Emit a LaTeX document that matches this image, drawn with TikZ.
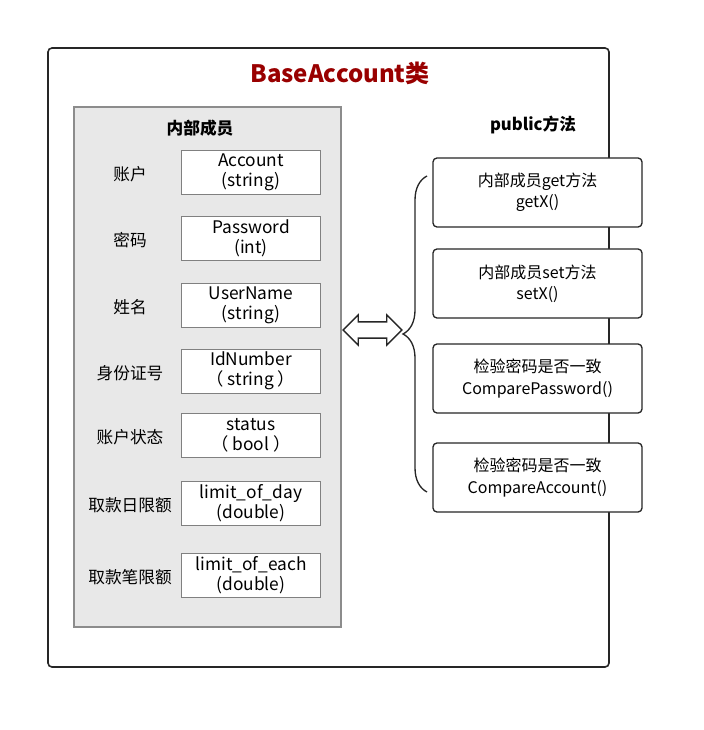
\documentclass[tikz,border=0pt]{standalone}
\usepackage{fontspec}
\setmainfont{Noto Sans CJK SC}
\usepackage{xcolor}
\usetikzlibrary{positioning}
\usetikzlibrary{shapes.arrows}
\usetikzlibrary{decorations.pathreplacing}
\definecolor{titlered}{RGB}{153,0,0}

\begin{document}
\begin{tikzpicture}[x=0.75pt, y=-0.75pt, font=\fontsize{12.5}{15}\selectfont]
    \tikzstyle{frame}=[draw=black!85, line width=1.2pt, rounded corners=3pt, inner sep=0pt]
    \tikzstyle{panel}=[draw=black!45, fill=gray!18, line width=1.3pt, inner sep=0pt]
    \tikzstyle{member}=[draw=black!50, fill=white, minimum width=104pt, minimum height=33pt, inner sep=0pt, align=center, font=\fontsize{13}{15}\selectfont]
    \tikzstyle{method}=[draw=black!85, fill=white, line width=1pt, rounded corners=3pt, minimum width=156.75pt, minimum height=51.75pt, inner sep=0pt, align=center, font=\fontsize{12}{16}\selectfont]
    \tikzstyle{head}=[font=\fontsize{12.5}{15}\selectfont\bfseries]

    \useasboundingbox (0,0) rectangle (703,730);

    % outer class box and member panel
    \node[frame, minimum width=420.75pt, minimum height=464.25pt] (cls) at (328.5,357.5) {};
    \node[font=\fontsize{18}{22}\selectfont\bfseries, text=titlered] (title) at (340,73) {BaseAccount类};
    \node[panel, minimum width=200.25pt, minimum height=390pt] (inner) at (207.5,367) {};
    \node[head] (innerhead) at (200,128) {内部成员};

    % members
    \foreach \i/\y/\lab/\txt in {1/172/账户/{Account\\(string)},
                                 2/238/密码/{Password\\(int)},
                                 3/305.5/姓名/{UserName\\(string)},
                                 4/371/身份证号/{IdNumber\\（ string ）},
                                 5/435/账户状态/{status\\（ bool ）},
                                 6/503/取款日限额/{limit\_of\_day\\(double)},
                                 7/575/取款笔限额/{limit\_of\_each\\(double)}}{
        \node[member] (m\i) at (251,\y) {\txt};
        \node (l\i) at (130,\y+2) {\lab};
    }

    % public methods
    \node[head] (pubhead) at (533,125) {public方法};
    \node[method] (f1) at (537.5,192.5) {内部成员get方法\\getX()};
    \node[method] (f2) at (537.5,283.5) {内部成员set方法\\setX()};
    \node[method] (f3) at (537.5,378.5) {检验密码是否一致\\ComparePassword()};
    \node[method] (f4) at (537.5,477.5) {检验密码是否一致\\CompareAccount()};

    % brace and link arrow
    \coordinate (bb) at (427,492);
    \coordinate (bt) at (427,176);
    \draw[black!85, line width=1pt, decorate, decoration={brace, amplitude=18pt}] (bb) -- (bt);
    \node[double arrow, draw=black!85, fill=white, line width=1pt, minimum height=44pt, inner xsep=0pt, inner ysep=5.6pt, double arrow head extend=5.25pt] (link) at (372.5,330) {};
\end{tikzpicture}
\end{document}
